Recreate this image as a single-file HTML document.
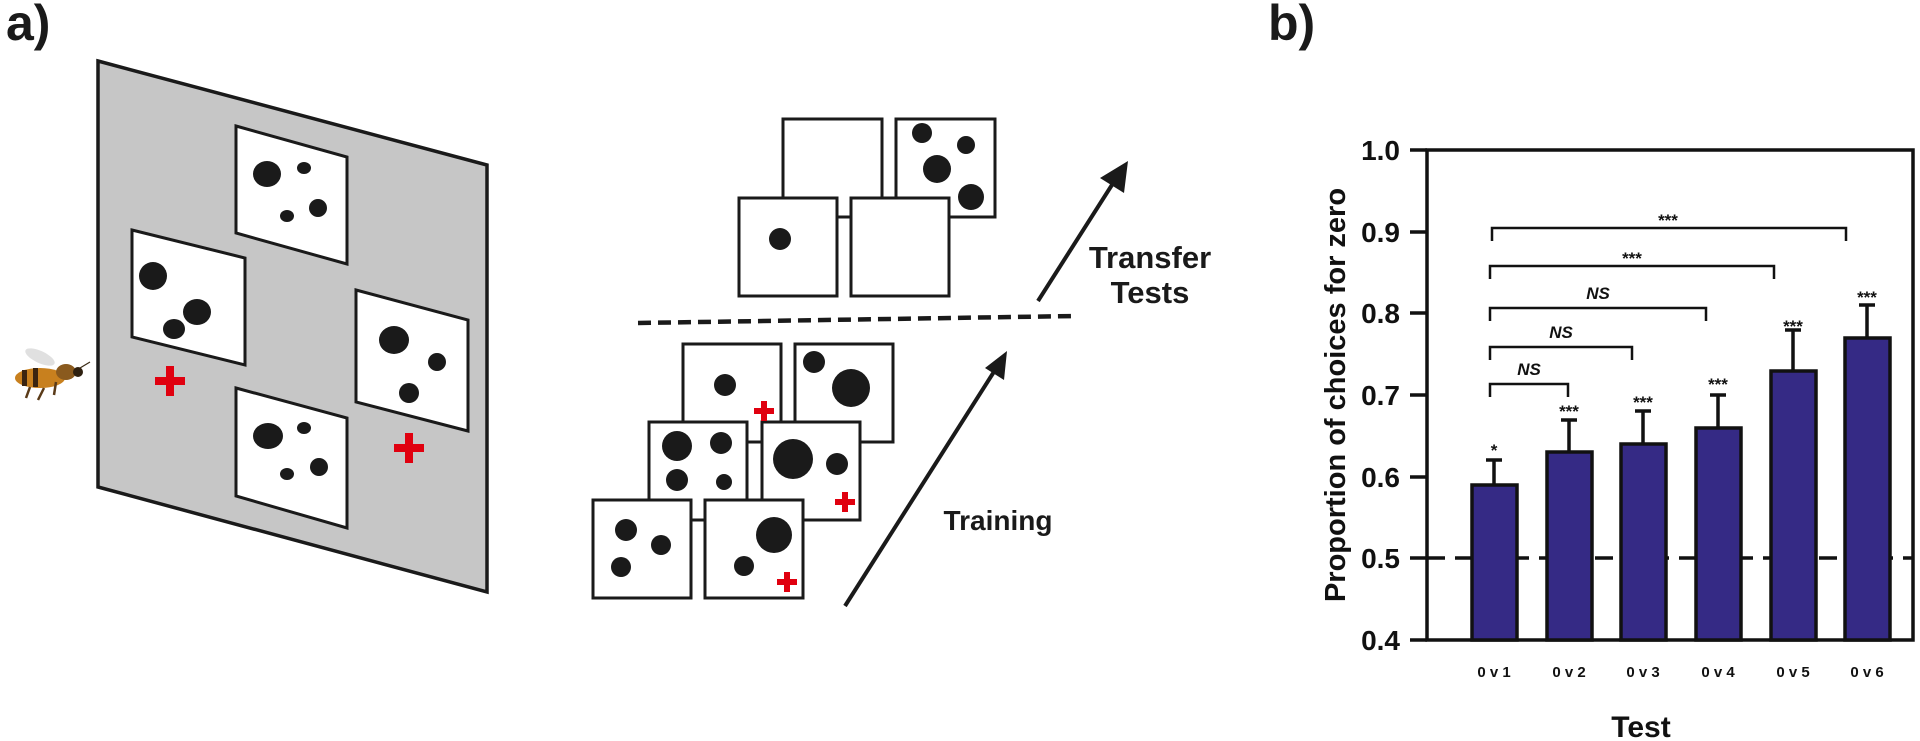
<!DOCTYPE html>
<html><head><meta charset="utf-8"><style>
html,body{margin:0;padding:0;background:#fff;}
svg{display:block;font-family:"Liberation Sans",Arial,sans-serif;}
</style></head><body>
<svg width="1920" height="741" viewBox="0 0 1920 741" xmlns="http://www.w3.org/2000/svg">
<text x="6" y="40" font-size="50" font-weight="bold" fill="#1a1a1a">a)</text>
<text x="1268" y="40" font-size="50" font-weight="bold" fill="#1a1a1a">b)</text>

<polygon points="98,61 487,165 487,592 98,487" fill="#c6c6c6" stroke="#1a1a1a" stroke-width="3.5"/>
<g stroke="#1a1a1a" stroke-width="3" fill="#fff">
<polygon points="236,126 347,157 347,264 236,233"/>
<polygon points="132,230 245,258 245,365 132,337"/>
<polygon points="356,290 468,320 468,431 356,402"/>
<polygon points="236,388 347,418 347,528 236,496"/>
</g>
<g fill="#1a1a1a">
<ellipse cx="267" cy="174" rx="14" ry="13"/><ellipse cx="304" cy="168" rx="7" ry="6"/><ellipse cx="318" cy="208" rx="9" ry="9"/><ellipse cx="287" cy="216" rx="7" ry="6"/>
<ellipse cx="153" cy="276" rx="14" ry="14"/><ellipse cx="197" cy="312" rx="14" ry="13"/><ellipse cx="174" cy="329" rx="11" ry="10"/>
<ellipse cx="394" cy="340" rx="15" ry="14"/><ellipse cx="437" cy="362" rx="9" ry="9"/><ellipse cx="409" cy="393" rx="10" ry="10"/>
<ellipse cx="268" cy="436" rx="15" ry="13"/><ellipse cx="304" cy="428" rx="7" ry="6"/><ellipse cx="319" cy="467" rx="9" ry="9"/><ellipse cx="287" cy="474" rx="7" ry="6"/>
</g>
<g fill="#e0000f">
<rect x="155" y="377" width="30" height="8"/><rect x="166" y="366" width="8" height="30"/>
<rect x="394" y="444" width="30" height="8"/><rect x="405" y="433" width="8" height="30"/>
</g>
<g>
<ellipse cx="40" cy="357" rx="16" ry="6" fill="#d8d8d8" opacity="0.8" transform="rotate(25 40 357)"/>
<ellipse cx="40" cy="378" rx="25" ry="10" fill="#c8801e"/>
<rect x="22" y="370" width="5" height="16" fill="#3a2410"/><rect x="33" y="368" width="5" height="19" fill="#3a2410"/>
<ellipse cx="66" cy="372" rx="10" ry="8" fill="#8a5a1e"/>
<circle cx="78" cy="372" r="5" fill="#2e2010"/>
<path d="M30 387 L26 398 M44 388 L38 400 M56 382 L54 395" stroke="#5a3a18" stroke-width="2.5"/>
<path d="M80 368 L90 362" stroke="#3a2a14" stroke-width="1.2"/>
</g>

<g stroke="#1a1a1a" stroke-width="3" fill="#fff">
<rect x="783" y="119" width="99" height="98"/>
<rect x="896" y="119" width="99" height="98"/>
<rect x="739" y="198" width="98" height="98"/>
<rect x="851" y="198" width="98" height="98"/>
</g>
<g fill="#1a1a1a">
<circle cx="922" cy="133" r="10"/><circle cx="966" cy="145" r="9"/><circle cx="937" cy="169" r="14"/><circle cx="971" cy="197" r="13"/>
<circle cx="780" cy="239" r="11"/>
</g>
<line x1="638" y1="323" x2="1075" y2="316" stroke="#1a1a1a" stroke-width="4.5" stroke-dasharray="13,7"/>

<g stroke="#1a1a1a" stroke-width="3" fill="#fff">
<rect x="683" y="344" width="98" height="98"/>
<rect x="795" y="344" width="98" height="98"/>
<rect x="649" y="422" width="98" height="98"/>
<rect x="762" y="422" width="98" height="98"/>
<rect x="593" y="500" width="98" height="98"/>
<rect x="705" y="500" width="98" height="98"/>
</g>
<g fill="#1a1a1a">
<circle cx="725" cy="385" r="11"/>
<circle cx="814" cy="362" r="11"/><circle cx="851" cy="388" r="19"/>
<circle cx="677" cy="446" r="15"/><circle cx="721" cy="443" r="11"/><circle cx="677" cy="480" r="11"/><circle cx="724" cy="482" r="8"/>
<circle cx="793" cy="459" r="20"/><circle cx="837" cy="464" r="11"/>
<circle cx="626" cy="530" r="11"/><circle cx="661" cy="545" r="10"/><circle cx="621" cy="567" r="10"/>
<circle cx="774" cy="535" r="18"/><circle cx="744" cy="566" r="10"/>
</g>
<g fill="#e0000f">
<rect x="754" y="408" width="20" height="6"/><rect x="761" y="401" width="6" height="20"/>
<rect x="835" y="499" width="20" height="6"/><rect x="842" y="492" width="6" height="20"/>
<rect x="777" y="579" width="20" height="6"/><rect x="784" y="572" width="6" height="20"/>
</g>

<g stroke="#1a1a1a" stroke-width="4">
<line x1="845" y1="606" x2="997" y2="367"/>
<line x1="1038" y1="301" x2="1117" y2="177"/>
</g>
<polygon points="1007,351 1004,380 985,368" fill="#1a1a1a"/>
<polygon points="1128,161 1124,193 1100,178" fill="#1a1a1a"/>
<text x="998" y="530" font-size="28" font-weight="bold" fill="#1a1a1a" text-anchor="middle">Training</text>
<text x="1150" y="268" font-size="31" font-weight="bold" fill="#1a1a1a" text-anchor="middle">Transfer</text>
<text x="1150" y="303" font-size="31" font-weight="bold" fill="#1a1a1a" text-anchor="middle">Tests</text>

<rect x="1427" y="150" width="486" height="490" fill="none" stroke="#111" stroke-width="3.5"/>
<g stroke="#111" stroke-width="3.5">
<line x1="1410" y1="150" x2="1427" y2="150"/><line x1="1410" y1="232" x2="1427" y2="232"/>
<line x1="1410" y1="313" x2="1427" y2="313"/><line x1="1410" y1="395" x2="1427" y2="395"/>
<line x1="1410" y1="477" x2="1427" y2="477"/><line x1="1410" y1="558" x2="1427" y2="558"/>
<line x1="1410" y1="640" x2="1427" y2="640"/>
</g>
<g font-size="28" font-weight="bold" fill="#111" text-anchor="end">
<text x="1400" y="160">1.0</text><text x="1400" y="242">0.9</text><text x="1400" y="323">0.8</text>
<text x="1400" y="405">0.7</text><text x="1400" y="487">0.6</text><text x="1400" y="568">0.5</text><text x="1400" y="650">0.4</text>
</g>
<line x1="1427" y1="558" x2="1913" y2="558" stroke="#111" stroke-width="3.5" stroke-dasharray="18,10"/>
<text transform="translate(1345,395) rotate(-90)" font-size="29" font-weight="bold" fill="#111" text-anchor="middle">Proportion of choices for zero</text>
<g fill="#352a85" stroke="#111" stroke-width="3.5">
<rect x="1472" y="485" width="45" height="155"/>
<rect x="1547" y="452" width="45" height="188"/>
<rect x="1621" y="444" width="45" height="196"/>
<rect x="1696" y="428" width="45" height="212"/>
<rect x="1771" y="371" width="45" height="269"/>
<rect x="1845" y="338" width="45" height="302"/>
</g>
<g stroke="#111" stroke-width="3.5">
<path d="M1494 485V460M1486 460H1502"/>
<path d="M1569 452V420M1561 420H1577"/>
<path d="M1643 444V411M1635 411H1651"/>
<path d="M1718 428V395M1710 395H1726"/>
<path d="M1793 371V330M1785 330H1801"/>
<path d="M1867 338V305M1859 305H1875"/>
</g>
<g stroke="#111" stroke-width="2.5" fill="none">
<path d="M1490 397V384H1568V397"/>
<path d="M1490 360V347H1632V360"/>
<path d="M1490 321V308H1706V321"/>
<path d="M1490 279V266H1774V279"/>
<path d="M1492 241V228H1846V241"/>
</g>
<g font-size="17" font-weight="bold" fill="#111" text-anchor="middle">
<text x="1529" y="375" font-style="italic">NS</text>
<text x="1561" y="338" font-style="italic">NS</text>
<text x="1598" y="299" font-style="italic">NS</text>
<text x="1632" y="264">***</text>
<text x="1668" y="226">***</text>
<text x="1494" y="456">*</text>
<text x="1569" y="417">***</text>
<text x="1643" y="408">***</text>
<text x="1718" y="390">***</text>
<text x="1793" y="332">***</text>
<text x="1867" y="303">***</text>
</g>
<g font-size="15" font-weight="bold" fill="#111" text-anchor="middle">
<text x="1494" y="677">0 v 1</text><text x="1569" y="677">0 v 2</text><text x="1643" y="677">0 v 3</text>
<text x="1718" y="677">0 v 4</text><text x="1793" y="677">0 v 5</text><text x="1867" y="677">0 v 6</text>
</g>
<text x="1641" y="737" font-size="30" font-weight="bold" fill="#111" text-anchor="middle">Test</text>
</svg>
</body></html>
